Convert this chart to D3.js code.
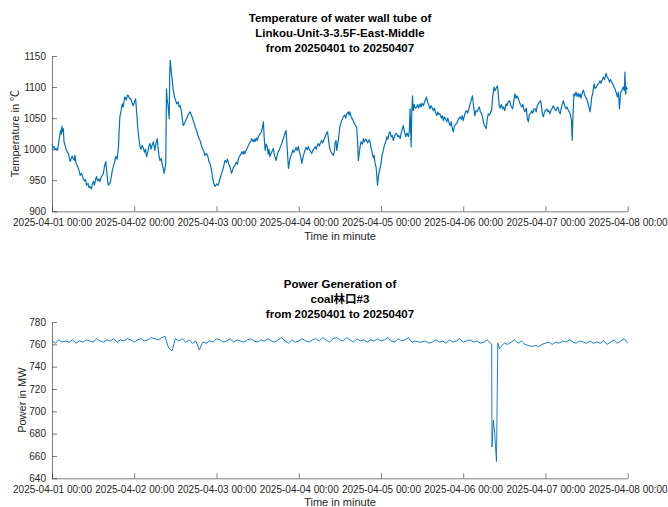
<!DOCTYPE html>
<html><head><meta charset="utf-8">
<script src="https://cdn.jsdelivr.net/npm/d3@7"></script>
<style>
html,body{margin:0;padding:0;background:#fff;}
text{font-family:"Liberation Sans",Arial,Helvetica,"Noto Sans CJK TC",sans-serif;}
</style></head>
<body><svg id="chart" width="668" height="507"></svg>
<script>
// ---------- data (hours since 2025-04-01 00:00) ----------
const tempHours = [0.0,0.3,0.6,0.9,1.3,1.6,1.9,2.2,2.5,2.7,2.9,3.1,3.3,3.5,3.8,4.1,4.4,4.8,5.1,5.3,5.6,5.9,6.2,6.5,6.7,7.0,7.4,7.7,8.0,8.2,8.6,9.1,9.5,9.8,10.1,10.5,10.8,11.1,11.5,11.8,12.1,12.4,12.7,13.0,13.3,13.7,14.0,14.3,14.7,15.0,15.3,15.7,16.0,16.4,16.7,16.9,17.3,17.6,17.9,18.2,18.6,19.0,19.4,19.6,19.8,20.1,20.5,20.8,21.1,21.3,21.7,22.0,22.3,22.6,23.0,23.3,23.7,24.0,24.4,24.7,25.0,25.3,25.7,26.0,26.3,26.7,27.0,27.3,27.6,28.0,28.3,28.6,28.9,29.2,29.6,30.0,30.3,30.7,31.0,31.2,31.5,31.9,32.2,32.5,32.7,33.0,33.2,33.4,33.6,33.8,34.0,34.2,34.35,34.5,34.8,35.1,35.4,35.7,36.0,36.4,36.8,37.1,37.4,37.8,38.0,38.3,38.7,39.0,39.3,39.7,40.0,40.3,40.7,41.2,41.6,42.0,42.2,42.6,43.0,43.2,43.6,44.0,44.2,44.6,45.1,45.5,45.8,46.1,46.5,46.9,47.2,47.6,48.0,48.5,48.9,49.2,49.5,49.9,50.2,50.5,50.9,51.2,51.5,51.9,52.2,52.4,52.8,53.1,53.4,53.8,54.1,54.4,54.8,55.1,55.4,55.8,56.0,56.3,56.7,57.0,57.3,57.7,58.0,58.3,58.7,59.0,59.2,59.6,59.9,60.2,60.6,60.9,61.2,61.5,61.7,61.9,62.2,62.5,62.8,63.1,63.3,63.6,64.0,64.3,64.6,64.9,65.2,65.4,65.8,66.0,66.3,66.7,67.0,67.3,67.7,68.0,68.3,68.6,69.0,69.3,69.6,70.0,70.3,70.6,70.9,71.2,71.6,71.9,72.2,72.6,72.9,73.2,73.5,73.8,74.1,74.5,74.8,75.1,75.5,75.8,76.1,76.5,76.8,77.1,77.4,77.7,78.0,78.4,78.7,79.0,79.4,79.7,80.0,80.4,80.7,81.0,81.2,81.6,82.1,82.4,82.6,82.9,83.1,83.5,84.0,84.4,84.7,85.0,85.4,85.7,86.0,86.4,86.7,86.9,87.2,87.5,87.9,88.2,88.6,88.9,89.2,89.4,89.7,89.9,90.2,90.6,90.9,91.2,91.5,91.8,92.1,92.5,92.8,93.1,93.5,93.8,94.0,94.3,94.6,95.0,95.3,95.7,96.0,96.3,96.7,97.0,97.4,97.7,98.0,98.3,98.6,99.0,99.3,99.6,99.9,100.3,100.6,100.9,101.2,101.6,101.9,102.2,102.5,102.8,103.2,103.6,104.0,104.3,104.5,104.8,105.0,105.2,105.4,105.7,106.0,106.4,106.7,107.0,107.4,107.7,108.0,108.4,108.7,109.0,109.3,109.6,110.0,110.3,110.6,111.0,111.3,111.6,112.0,112.3,112.6,112.9,113.2,113.6,113.9,114.2,114.5,114.9,115.2,115.5,115.9,116.2,116.5,116.8,117.1,117.4,117.8,118.1,118.4,118.8,119.1,119.4,119.7,120.0,120.4,120.7,121.0,121.3,121.7,122.0,122.3,122.7,123.0,123.4,123.7,124.0,124.4,124.7,125.0,125.4,125.7,125.9,126.2,126.5,126.7,127.0,127.3,127.7,128.0,128.3,128.6,129.0,129.3,129.6,130.0,130.2,130.5,130.8,131.1,131.5,131.8,132.1,132.5,132.8,133.1,133.5,133.8,134.1,134.4,134.7,135.1,135.4,135.7,136.1,136.4,136.7,137.1,137.4,137.7,138.0,138.4,138.7,139.0,139.3,139.7,140.0,140.3,140.7,141.0,141.3,141.6,141.9,142.3,142.6,142.9,143.1,143.4,143.7,144.0,144.4,144.7,145.0,145.3,145.7,146.0,146.3,146.6,147.0,147.3,147.6,148.0,148.3,148.6,148.9,149.2,149.6,150.0,150.3,150.7,151.0,151.3,151.6,151.8,152.0,152.3,152.6,152.9,153.2,153.5,153.8,154.1,154.4,154.8,155.1,155.4,155.7,156.0,156.3,156.6,157.0,157.3,157.5,157.8,158.2,158.5,158.9,159.2,159.6,159.9,160.2,160.6,160.9,161.2,161.5,161.7,162.0,162.4,162.7,163.0,163.3,163.7,164.0,164.3,164.7,165.0,165.3,165.6,165.8,166.0,166.4,166.7,167.0,167.2,167.4,167.6,167.9];
const tempValues = [1008,1002,1004,999,1001,998,1008,1020,1030,1024,1037,1028,1033,1012,1006,1000,996,993,985,980,984,989,985,982,990,978,973,969,963,958,961,953,949,951,942,945,938,940,936,944,948,942,951,956,949,952,948,954,958,961,972,980,962,942,944,945,955,966,972,978,988,984,1004,1030,1052,1060,1073,1068,1080,1084,1079,1087,1086,1082,1081,1076,1070,1075,1081,1060,1036,1020,1004,1000,1006,1001,995,1000,988,996,1005,1009,1000,1006,1012,998,1008,1017,1000,990,982,985,974,968,961,970,977,1097,1080,1073,1062,1049,1120,1143,1125,1110,1095,1084,1080,1073,1076,1068,1070,1060,1050,1038,1042,1046,1049,1055,1058,1060,1055,1046,1040,1032,1030,1022,1016,1014,1006,1000,998,990,993,988,980,977,968,953,945,940,944,942,950,956,961,968,975,982,979,984,977,972,966,961,968,972,974,979,976,985,989,992,996,992,997,993,999,1002,1006,1010,1013,1017,1012,1016,1012,1018,1014,1020,1024,1026,1030,1038,1044,1020,998,1008,1004,992,1000,988,994,998,1001,990,986,982,992,996,998,1005,1008,1014,1020,1026,1030,1005,969,980,988,993,999,995,998,1003,998,1004,996,988,977,986,992,998,1003,999,1004,1000,996,993,998,1001,1004,1000,1006,1009,1005,1011,1014,1010,1016,1020,1024,1028,1015,1003,998,994,990,996,1010,1014,998,1012,1036,1044,1048,1052,1055,1050,1057,1060,1055,1060,1054,1050,1046,1042,1038,1036,1010,982,995,1004,1012,1008,1017,1012,1016,1014,1010,1015,1012,1002,993,986,990,977,970,942,958,969,976,990,998,1006,1012,1020,1016,1024,1028,1020,1022,1014,1020,1025,1025,1020,1022,1017,1026,1032,1038,1030,1020,1026,1020,1030,1065,1004,1060,1086,1062,1072,1066,1068,1072,1066,1073,1068,1074,1070,1076,1080,1084,1076,1070,1065,1070,1066,1062,1066,1058,1054,1060,1056,1057,1050,1054,1046,1052,1048,1044,1050,1042,1038,1044,1034,1028,1036,1040,1041,1046,1050,1052,1048,1054,1046,1055,1060,1062,1058,1066,1073,1078,1086,1070,1054,1062,1060,1065,1068,1060,1057,1050,1044,1038,1036,1033,1048,1057,1055,1060,1062,1085,1100,1094,1098,1102,1090,1070,1066,1072,1065,1068,1062,1073,1070,1076,1078,1072,1068,1065,1075,1089,1082,1086,1081,1076,1072,1068,1072,1064,1060,1066,1050,1044,1056,1058,1062,1058,1065,1065,1060,1070,1073,1076,1078,1066,1056,1052,1060,1062,1065,1060,1062,1057,1064,1066,1070,1066,1062,1065,1068,1060,1057,1066,1072,1078,1070,1065,1068,1062,1060,1055,1046,1014,1050,1089,1086,1092,1085,1090,1084,1089,1082,1092,1095,1088,1084,1081,1076,1070,1060,1072,1084,1090,1105,1098,1100,1104,1106,1110,1106,1112,1116,1112,1118,1122,1116,1113,1108,1112,1108,1104,1100,1097,1090,1084,1092,1065,1082,1092,1096,1100,1094,1124,1089,1100,1097];

const powerHours = [0,1,2,3,4,5,6,7,8,9,10,11,12,13,14,15,16,17,18,19,20,21,22,23,24,25,26,27,28,29,30,31,32,33,34,35,36,37,38,39,40,41,42,43,44,45,46,47,48,49,50,51,52,53,54,55,56,57,58,59,60,61,62,63,64,65,66,67,68,69,70,71,72,73,74,75,76,77,78,79,80,81,82,83,84,85,86,87,88,89,90,91,92,93,94,95,96,97,98,99,100,101,102,103,104,105,106,107,108,109,110,111,112,113,114,115,116,117,118,119,120,121,122,123,124,125,126,127,128,128.3,128.4,128.8,129.2,129.7,130.1,130.6,131,132,133,134,135,136,137,138,139,140,141,142,143,144,145,146,147,148,149,150,151,152,153,154,155,156,157,158,159,160,161,162,163,164,165,166,167,168];
const powerValues = [763,761,764,762,763,762,764,761,763,762,764,763,762,765,763,762,764,763,765,762,764,763,765,764,762,764,765,763,764,766,765,764,766,767,757,754,765,763,765,762,764,761,763,755,762,761,763,762,765,764,762,763,765,762,764,763,762,764,765,763,762,764,763,765,763,762,764,766,763,761,764,762,763,765,763,762,764,765,763,766,764,762,765,766,764,763,766,764,762,765,763,764,762,764,763,765,763,764,766,763,762,765,763,764,766,762,763,762,762,763,761,762,764,762,763,761,764,762,763,765,762,763,764,762,763,761,762,764,761,760,668,692,680,655,761,756,758,761,760,762,764,761,763,760,759,758,759,758,760,761,762,760,762,761,763,762,764,762,761,763,762,761,763,761,762,761,763,760,762,764,761,763,765,761];

const tempTicks = [900,950,1000,1050,1100,1150];
const powerTicks = [640,660,680,700,720,740,760,780];
const tempTitle = ["Temperature of water wall tube of","Linkou-Unit-3-3.5F-East-Middle","from 20250401 to 20250407"];
const powerTitle = ["Power Generation of","coal林口#3","from 20250401 to 20250407"];
const xLabel = "Time in minute";
const tempYLabel = "Temperature in \u2103";
const powerYLabel = "Power in MW";

// ---------- drawing ----------
const svg = d3.select("#chart");
svg.append("rect").attr("width",668).attr("height",507).attr("fill","#fff");
const t0 = Date.UTC(2025,3,1);
const toDate = h => new Date(t0 + h*3600e3);
const x = d3.scaleUtc().domain([new Date(t0), new Date(Date.UTC(2025,3,8))]).range([52, 627.7]);
const fmt = d3.utcFormat("%Y-%m-%d %H:%M");
const axisColor = "#262626";
const lineColor = "#0072BD";

function panel(opts){
  const {top, bottom, ydom, yticks, hours, values, title, titleY, ylabel, ylabelX, xlabelY, lw} = opts;
  const y = d3.scaleLinear().domain(ydom).range([bottom, top]);
  const g = svg.append("g");
  const xa = g.append("g").attr("transform",`translate(0,${bottom})`)
    .call(d3.axisBottom(x).ticks(d3.utcDay.every(1)).tickFormat(fmt).tickSizeInner(-5).tickSizeOuter(0).tickPadding(8));
  const ya = g.append("g").attr("transform",`translate(52,0)`)
    .call(d3.axisLeft(y).tickValues(yticks).tickFormat(d3.format("d")).tickSizeInner(-5).tickSizeOuter(0).tickPadding(6));
  [xa,ya].forEach(a=>{
    a.selectAll("path").attr("stroke",axisColor).attr("stroke-width",0.6);
    a.selectAll("line").attr("stroke",axisColor).attr("stroke-width",0.6);
    a.selectAll("text").attr("fill",axisColor).style("font-size","10px")
      .style("font-family",'"Liberation Sans",Arial,Helvetica,sans-serif');
  });
  const line = d3.line().x((d,i)=>x(toDate(hours[i]))).y(d=>y(d));
  g.append("path").datum(values).attr("d",line).attr("fill","none")
    .attr("stroke",lineColor).attr("stroke-width",lw).attr("stroke-linejoin","round");
  const tt = g.append("text").attr("text-anchor","middle").attr("font-weight","bold")
    .style("font-size","11.5px").attr("fill","#000");
  title.forEach((s,i)=>tt.append("tspan").attr("x",340).attr("y",titleY + i*15).text(s));
  g.append("text").attr("x",340).attr("y",xlabelY).attr("text-anchor","middle")
    .style("font-size","11px").attr("fill",axisColor).text(xLabel);
  g.append("text").attr("transform",`translate(${ylabelX},${(top+bottom)/2}) rotate(-90)`)
    .attr("text-anchor","middle").style("font-size","11px").attr("fill",axisColor).text(ylabel);
}

panel({top:56, bottom:211.3, ydom:[900,1150], yticks:tempTicks, hours:tempHours, values:tempValues,
  title:tempTitle, titleY:21.5, ylabel:tempYLabel, ylabelX:19, xlabelY:240, lw:1.2});
panel({top:322, bottom:478.3, ydom:[640,780], yticks:powerTicks, hours:powerHours, values:powerValues,
  title:powerTitle, titleY:288, ylabel:powerYLabel, ylabelX:26, xlabelY:506, lw:0.9});
</script></body></html>
